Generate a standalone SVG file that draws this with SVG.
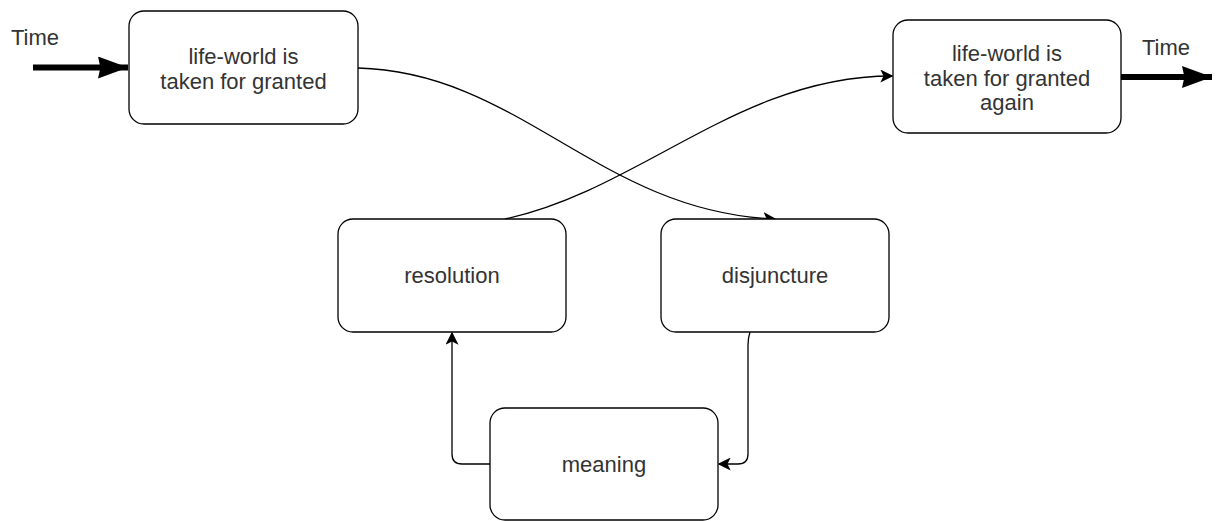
<svg xmlns="http://www.w3.org/2000/svg" width="1217" height="521" viewBox="0 0 1217 521">
<style>
.node rect{fill:#fff;stroke:#000;stroke-width:1.3}
text{font-family:"Liberation Sans",Arial,sans-serif;font-size:22px;fill:#333;text-anchor:middle}
.edge{fill:none;stroke:#000;stroke-width:1.3}
.thick{fill:none;stroke:#000;stroke-width:6}
</style>
<defs>
<marker id="a" viewBox="0 0 10 10" refX="9" refY="5" markerWidth="13" markerHeight="13" markerUnits="userSpaceOnUse" orient="auto"><path d="M0,0 L10,5 L0,10 L2.5,5 Z" fill="#000"/></marker>
<marker id="b" viewBox="0 0 10 10" refX="10" refY="5" markerWidth="30" markerHeight="22" markerUnits="userSpaceOnUse" preserveAspectRatio="none" orient="auto"><path d="M0,0 L10,5 L0,10 L0.8,5 Z" fill="#000"/></marker>
</defs>
<g id="connectors">
<path class="thick" d="M33,67.5 L128,67.5" marker-end="url(#b)"/>
<path class="thick" d="M1121,77 L1212,77" marker-end="url(#b)"/>
<path class="edge" d="M358,68 C520,72 600,212 775,219" marker-end="url(#a)"/>
<path class="edge" d="M505,219 C640,190 740,76 892,76" marker-end="url(#a)"/>
<path class="edge" d="M750,332 Q748,338 748,345 L748,454 Q748,464 738,464 L719,464" marker-end="url(#a)"/>
<path class="edge" d="M490,464 L462,464 Q452,464 452,454 L452,333" marker-end="url(#a)"/>
</g>
<text x="11" y="45" style="text-anchor:start">Time</text>
<text x="1166" y="55">Time</text>
<g id="n1" class="node"><rect x="129" y="11" width="229" height="113" rx="15"/><text x="243.5" y="64">life-world is</text><text x="243.5" y="89">taken for granted</text></g>
<g id="n2" class="node"><rect x="893" y="20" width="228" height="113" rx="15"/><text x="1007" y="61">life-world is</text><text x="1007" y="86">taken for granted</text><text x="1007" y="110">again</text></g>
<g id="n3" class="node"><rect x="338" y="219" width="228" height="113" rx="15"/><text x="452" y="283">resolution</text></g>
<g id="n4" class="node"><rect x="661" y="219" width="228" height="113" rx="15"/><text x="775" y="283">disjuncture</text></g>
<g id="n5" class="node"><rect x="490" y="408" width="228" height="112" rx="15"/><text x="604" y="472">meaning</text></g>
</svg>
